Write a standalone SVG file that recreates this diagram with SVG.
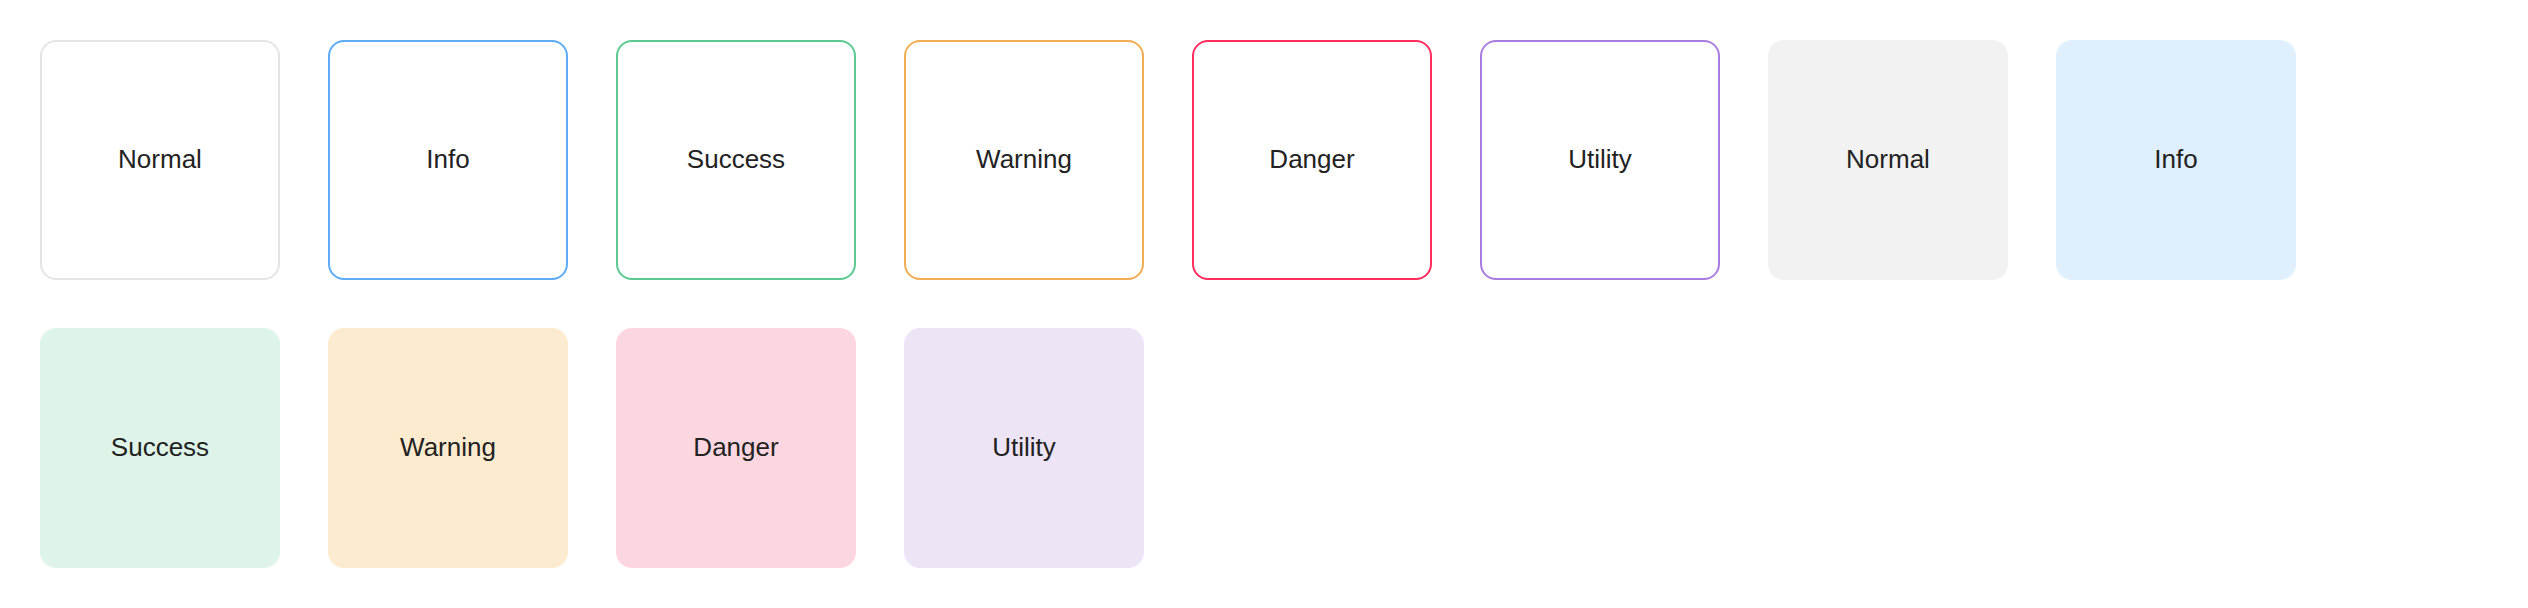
<svg xmlns="http://www.w3.org/2000/svg" width="2528" height="608" viewBox="0 0 2528 608">
<style>
.o{fill:#ffffff;stroke-width:2}
.f{stroke:none}
.t{font-family:"Liberation Sans",Arial,sans-serif;font-size:26px;fill:#222222;text-anchor:middle;dominant-baseline:central}
</style>
<rect width="2528" height="608" fill="#ffffff"/>
<g id="n1"><rect class="o" x="41" y="41" width="238" height="238" rx="15" stroke="#e4e4e4"/><text class="t" x="160" y="159">Normal</text></g>
<g id="n2"><rect class="o" x="329" y="41" width="238" height="238" rx="15" stroke="#5eabf5"/><text class="t" x="448" y="159">Info</text></g>
<g id="n3"><rect class="o" x="617" y="41" width="238" height="238" rx="15" stroke="#5cc993"/><text class="t" x="736" y="159">Success</text></g>
<g id="n4"><rect class="o" x="905" y="41" width="238" height="238" rx="15" stroke="#f0ad52"/><text class="t" x="1024" y="159">Warning</text></g>
<g id="n5"><rect class="o" x="1193" y="41" width="238" height="238" rx="15" stroke="#ff2e5f"/><text class="t" x="1312" y="159">Danger</text></g>
<g id="n6"><rect class="o" x="1481" y="41" width="238" height="238" rx="15" stroke="#a97de0"/><text class="t" x="1600" y="159">Utility</text></g>
<g id="n7"><rect class="f" x="1768" y="40" width="240" height="240" rx="16" fill="#f2f2f2"/><text class="t" x="1888" y="159">Normal</text></g>
<g id="n8"><rect class="f" x="2056" y="40" width="240" height="240" rx="16" fill="#e0effc"/><text class="t" x="2176" y="159">Info</text></g>
<g id="n9"><rect class="f" x="40" y="328" width="240" height="240" rx="16" fill="#dff4e9"/><text class="t" x="160" y="447">Success</text></g>
<g id="n10"><rect class="f" x="328" y="328" width="240" height="240" rx="16" fill="#fdebcf"/><text class="t" x="448" y="447">Warning</text></g>
<g id="n11"><rect class="f" x="616" y="328" width="240" height="240" rx="16" fill="#fdd7e0"/><text class="t" x="736" y="447">Danger</text></g>
<g id="n12"><rect class="f" x="904" y="328" width="240" height="240" rx="16" fill="#ede4f6"/><text class="t" x="1024" y="447">Utility</text></g>
<g id="connectors"></g>
</svg>
